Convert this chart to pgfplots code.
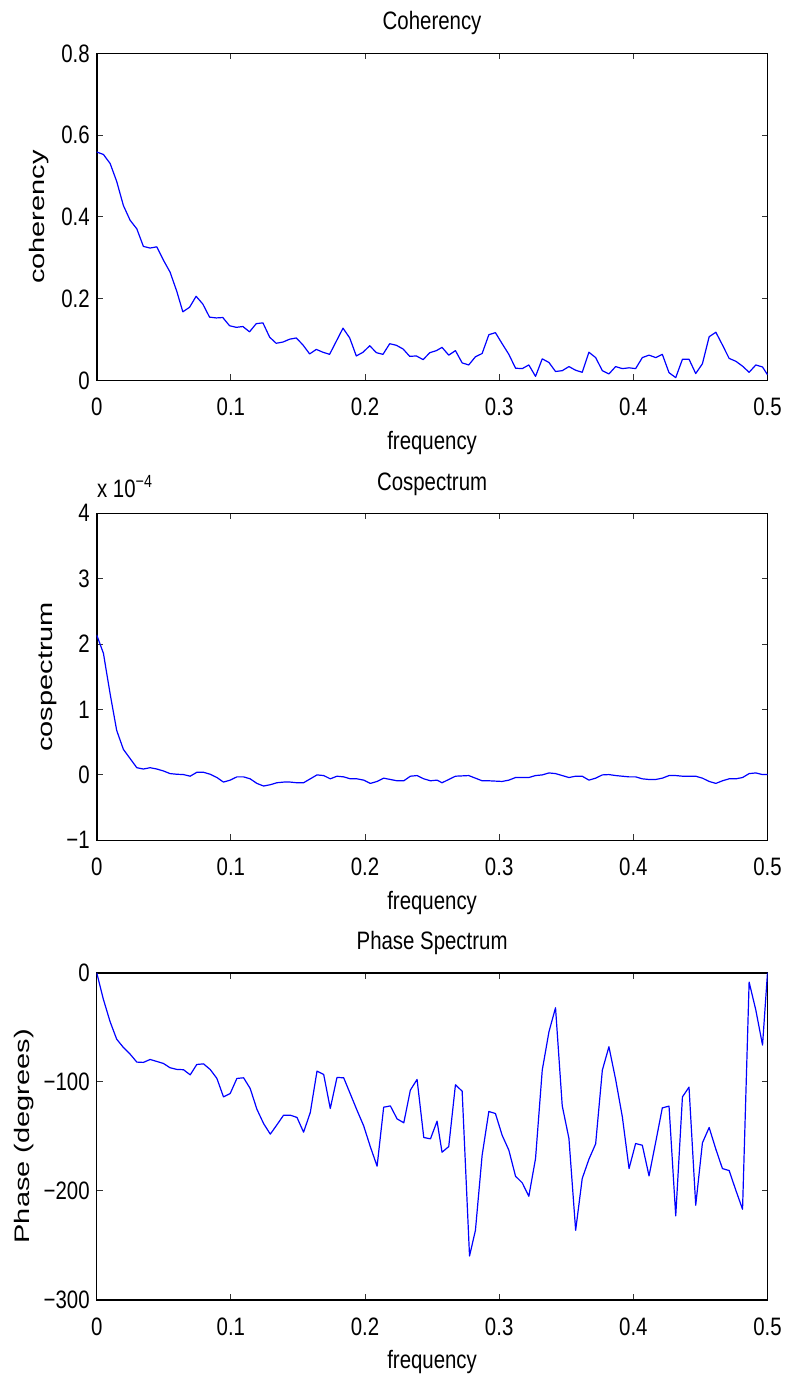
\documentclass[border=0pt]{standalone}
\usepackage{pgfplots}
\pgfplotsset{compat=1.18}
\usepackage{fontspec}
\setmainfont{Liberation Sans}[FakeStretch=0.81]
\newfontfamily\ylfont{Liberation Sans}[FakeStretch=1.38]
\newcommand{\mfont}{\fontsize{12.6}{15}\selectfont}
\newcommand{\yfont}{\ylfont\fontsize{10.5}{12}\selectfont}
\pgfplotsset{
  mstyle/.style={
    scale only axis, width=335.4pt, height=163.5pt,
    xmin=0, xmax=0.5,
    xtick={0,0.1,0.2,0.3,0.4,0.5},
    xticklabels={0,0.1,0.2,0.3,0.4,0.5},
    tick align=inside, xtick pos=both, ytick pos=both,
    major tick length=3pt,
    axis line style={line width=0.8pt},
    every tick/.style={black!80, line width=0.5pt},
    tick label style={font=\mfont},
    label style={font=\mfont},
    ylabel style={font=\yfont},
    title style={font=\mfont, at={(axis description cs:0.5,1)}, anchor=base, yshift=6pt},
    xticklabel style={anchor=base, yshift=-17.7pt},
    xlabel style={at={(axis description cs:0.5,0)}, anchor=base, yshift=-34.5pt},
    xlabel={frequency},
  },
  mline/.style={color={rgb,255:red,0;green,0;blue,255}, line width=0.6pt, line join=round, mark=none},
}
\begin{document}
\begin{tikzpicture}
\useasboundingbox (0,0) rectangle (393pt,-689.5pt);
% ---------------- Coherency ----------------
\begin{axis}[mstyle, name=top, at={(48.35pt,-26.75pt)}, anchor=north west,
  ymin=0, ymax=0.8, ytick={0,0.2,0.4,0.6,0.8}, yticklabels={0,0.2,0.4,0.6,0.8},
  title={Coherency}, ylabel={coherency},
  ylabel style={at={(axis description cs:-0.086,0.5)}, anchor=center}]
\addplot[mline] table {
0 0.559
0.0050 0.553
0.0100 0.531
0.0149 0.487
0.0199 0.428
0.0249 0.392
0.0299 0.371
0.0348 0.328
0.0398 0.324
0.0448 0.327
0.0498 0.294
0.0547 0.265
0.0597 0.218
0.0642 0.168
0.0692 0.179
0.0741 0.206
0.0791 0.187
0.0841 0.155
0.0891 0.153
0.0940 0.154
0.0990 0.134
0.1040 0.130
0.1090 0.132
0.1139 0.119
0.1189 0.139
0.1239 0.141
0.1289 0.106
0.1338 0.091
0.1388 0.094
0.1438 0.101
0.1488 0.104
0.1537 0.087
0.1587 0.065
0.1637 0.076
0.1687 0.069
0.1736 0.064
0.1786 0.096
0.1836 0.128
0.1886 0.104
0.1935 0.060
0.1985 0.069
0.2035 0.085
0.2085 0.068
0.2134 0.064
0.2184 0.090
0.2234 0.086
0.2284 0.077
0.2333 0.059
0.2383 0.060
0.2433 0.051
0.2483 0.068
0.2532 0.073
0.2574 0.081
0.2624 0.062
0.2674 0.073
0.2724 0.043
0.2773 0.038
0.2823 0.058
0.2873 0.066
0.2923 0.112
0.2972 0.117
0.3022 0.090
0.3072 0.064
0.3122 0.030
0.3172 0.029
0.3221 0.038
0.3271 0.010
0.3321 0.053
0.3371 0.044
0.3420 0.022
0.3470 0.024
0.3520 0.034
0.3570 0.025
0.3619 0.020
0.3669 0.069
0.3719 0.056
0.3769 0.024
0.3818 0.016
0.3868 0.034
0.3918 0.029
0.3968 0.031
0.4017 0.029
0.4067 0.056
0.4117 0.062
0.4167 0.056
0.4216 0.064
0.4266 0.019
0.4316 0.007
0.4366 0.052
0.4415 0.052
0.4465 0.017
0.4515 0.041
0.4565 0.107
0.4615 0.118
0.4664 0.087
0.4714 0.054
0.4764 0.047
0.4814 0.035
0.4863 0.020
0.4913 0.038
0.4963 0.033
0.5000 0.014
};
\end{axis}
% ---------------- Cospectrum ----------------
\begin{axis}[mstyle, name=mid, at={(48.35pt,-256.65pt)}, anchor=north west,
  ymin=-1, ymax=4, ytick={-1,0,1,2,3,4}, yticklabels={−1,0,1,2,3,4},
  title={Cospectrum}, title style={yshift=-0.7pt}, ylabel={cospectrum},
  ylabel style={at={(axis description cs:-0.073,0.5)}, anchor=center}]
\addplot[mline] table {
0 2.14
0.0050 1.86
0.0100 1.24
0.0149 0.68
0.0199 0.39
0.0249 0.25
0.0299 0.11
0.0348 0.09
0.0398 0.11
0.0448 0.09
0.0498 0.06
0.0547 0.02
0.0597 0.01
0.0647 0.005
0.0697 -0.02
0.0746 0.04
0.0796 0.04
0.0846 0.01
0.0896 -0.04
0.0945 -0.11
0.0995 -0.08
0.1045 -0.03
0.1095 -0.03
0.1144 -0.06
0.1194 -0.13
0.1244 -0.17
0.1294 -0.15
0.1343 -0.12
0.1393 -0.11
0.1443 -0.11
0.1493 -0.12
0.1542 -0.12
0.1592 -0.06
0.1642 0.00
0.1692 -0.01
0.1741 -0.06
0.1791 -0.02
0.1841 -0.03
0.1891 -0.06
0.1940 -0.06
0.1990 -0.08
0.2040 -0.13
0.2090 -0.10
0.2139 -0.05
0.2189 -0.07
0.2239 -0.09
0.2289 -0.09
0.2338 -0.02
0.2388 -0.01
0.2438 -0.06
0.2488 -0.09
0.2537 -0.08
0.2574 -0.12
0.2624 -0.07
0.2674 -0.02
0.2773 -0.01
0.2823 -0.05
0.2873 -0.09
0.2923 -0.09
0.3022 -0.10
0.3072 -0.08
0.3122 -0.04
0.3221 -0.04
0.3271 -0.01
0.3321 0.00
0.3371 0.03
0.3420 0.02
0.3470 -0.01
0.3520 -0.04
0.3570 -0.02
0.3619 -0.02
0.3669 -0.08
0.3719 -0.05
0.3769 0.00
0.3818 0.005
0.3868 -0.01
0.3918 -0.02
0.3968 -0.03
0.4017 -0.03
0.4067 -0.06
0.4117 -0.07
0.4167 -0.07
0.4216 -0.05
0.4266 -0.01
0.4316 -0.01
0.4366 -0.02
0.4415 -0.02
0.4465 -0.02
0.4515 -0.05
0.4565 -0.10
0.4615 -0.13
0.4664 -0.09
0.4714 -0.06
0.4764 -0.06
0.4814 -0.04
0.4863 0.02
0.4913 0.03
0.4963 0.005
0.5000 0.005
};
\end{axis}
\node[anchor=base west, inner sep=0pt, font=\mfont] at ([yshift=7.7pt]mid.north west)
  {x 10\raisebox{5pt}{\fontsize{8.8}{10}\selectfont −4}};
% ---------------- Phase Spectrum ----------------
\begin{axis}[mstyle, name=bot, at={(48.35pt,-486.35pt)}, anchor=north west,
  ymin=-300, ymax=0, ytick={-300,-200,-100,0}, yticklabels={−300,−200,−100,0},
  title={Phase Spectrum}, title style={yshift=-0.5pt}, ylabel={Phase (degrees)},
  ylabel style={at={(axis description cs:-0.1085,0.5)}, anchor=center}]
\addplot[mline] table {
0 0
0.0050 -24.5
0.0100 -45.0
0.0149 -61.0
0.0199 -68.6
0.0249 -74.7
0.0299 -82.0
0.0348 -82.3
0.0398 -79.6
0.0448 -81.4
0.0498 -83.3
0.0547 -87.2
0.0597 -88.7
0.0647 -89.0
0.0697 -93.7
0.0746 -84.2
0.0796 -83.6
0.0846 -88.8
0.0896 -97.0
0.0945 -113.9
0.0995 -110.8
0.1045 -97.0
0.1095 -96.4
0.1144 -106.2
0.1194 -125.2
0.1244 -138.4
0.1294 -148.1
0.1343 -139.6
0.1393 -130.7
0.1443 -130.7
0.1493 -132.8
0.1542 -146.3
0.1592 -128.3
0.1642 -90.3
0.1692 -93.4
0.1741 -124.6
0.1791 -96.1
0.1841 -96.4
0.1891 -111.4
0.1940 -126.1
0.1990 -140.5
0.2040 -159.8
0.2090 -177.5
0.2139 -123.4
0.2189 -122.2
0.2239 -134.1
0.2289 -137.7
0.2338 -107.7
0.2388 -97.9
0.2438 -151.2
0.2488 -152.4
0.2537 -136.2
0.2574 -164.7
0.2624 -159.5
0.2674 -102.8
0.2724 -108.7
0.2779 -259.9
0.2823 -236.3
0.2873 -167.4
0.2923 -127.3
0.2972 -129.2
0.3022 -149.1
0.3072 -162.8
0.3122 -186.7
0.3172 -192.8
0.3221 -205.1
0.3271 -170.5
0.3321 -89.4
0.3371 -54.2
0.3420 -32.1
0.3470 -122.1
0.3520 -152.1
0.3570 -236.3
0.3619 -188.8
0.3669 -171.1
0.3719 -157.0
0.3769 -89.4
0.3818 -67.9
0.3868 -97.9
0.3918 -132.2
0.3968 -179.7
0.4017 -156.7
0.4067 -158.3
0.4117 -186.4
0.4167 -155.2
0.4216 -124.0
0.4266 -122.4
0.4316 -223.1
0.4366 -113.9
0.4415 -105.0
0.4465 -213.3
0.4515 -156.1
0.4565 -142.0
0.4615 -161.9
0.4664 -179.7
0.4714 -181.5
0.4764 -199.6
0.4814 -217.0
0.4863 -8.6
0.4913 -34.3
0.4963 -66.4
0.5000 0
};
\end{axis}
\end{tikzpicture}
\end{document}
